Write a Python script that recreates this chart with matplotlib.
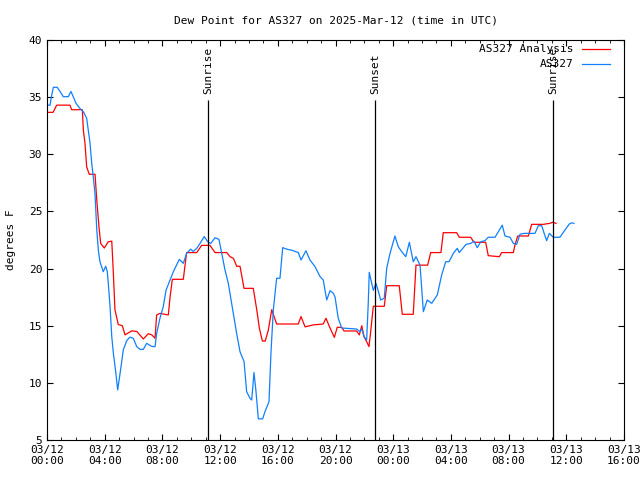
import numpy as np
import matplotlib
matplotlib.use('Agg')
import matplotlib.pyplot as plt

plt.rcParams['font.family'] = ['DejaVu Sans Mono']

# hours since 03/12 00:00 UTC
analysis_t = [0.00, 0.42, 0.67, 1.59, 1.71, 2.45, 2.52, 2.63, 2.75, 2.93, 3.33, 3.45, 3.60, 3.72,
              3.97, 4.25, 4.49, 4.60, 4.71, 4.94, 5.22, 5.41, 5.87, 6.22, 6.68, 7.02, 7.26, 7.49,
              7.60, 7.83, 8.41, 8.53, 8.69, 9.45, 9.57, 9.68, 10.38, 10.72, 11.30, 11.65, 12.46,
              12.69, 12.92, 13.15, 13.38, 13.66, 14.30, 14.54, 14.72, 14.93, 15.13, 15.34, 15.58,
              15.92, 17.42, 17.61, 17.89, 18.46, 19.15, 19.34, 19.62, 19.92, 20.12, 20.43, 20.59,
              21.47, 21.65, 21.82, 21.98, 22.16, 22.32, 22.44, 22.62, 23.38, 23.55, 24.42, 24.63,
              25.39, 25.58, 26.39, 26.60, 27.31, 27.47, 28.40, 28.58, 29.37, 29.60, 30.41, 30.59,
              31.36, 31.52, 32.33, 32.44, 32.63, 33.37, 33.60, 34.41, 34.87, 35.06, 35.29]
analysis_v = [33.67, 33.67, 34.3, 34.3, 33.9, 33.9, 32.1, 31.0, 28.9, 28.25, 28.25, 26.0, 23.7, 22.2,
              21.8, 22.35, 22.4, 19.6, 16.4, 15.1, 15.0, 14.2, 14.55, 14.5, 13.84, 14.3, 14.2, 13.9,
              15.94, 16.08, 15.94, 17.5, 19.06, 19.06, 20.3, 21.4, 21.4, 22.03, 22.03, 21.4, 21.4,
              21.04, 20.9, 20.2, 20.2, 18.27, 18.27, 16.4, 14.8, 13.66, 13.66, 14.6, 16.4,
              15.15, 15.15, 15.8, 14.9, 15.07, 15.15, 15.65, 14.8, 13.98, 14.86, 14.86, 14.54,
              14.54, 14.19, 15.0, 14.04, 13.6, 13.17, 14.48, 16.7, 16.7, 18.5, 18.5, 16.0,
              16.0, 20.3, 20.3, 21.4, 21.4, 23.14, 23.14, 22.74, 22.74, 22.3, 22.3, 21.13,
              21.04, 21.4, 21.4, 22.06, 22.85, 22.85, 23.87, 23.87, 23.96, 24.05, 23.96]

obs_t = [0.00, 0.21, 0.33, 0.44, 0.71, 0.90, 1.13, 1.48, 1.66, 1.82, 2.01, 2.29, 2.52, 2.75, 2.86,
         2.98, 3.10, 3.21, 3.33, 3.45, 3.56, 3.67, 3.90, 4.07, 4.18, 4.25, 4.37, 4.49, 4.60, 4.76,
         4.90, 5.13, 5.29, 5.53, 5.75, 5.98, 6.22, 6.45, 6.68, 6.91, 7.21, 7.37, 7.49, 7.60, 7.83,
         8.06, 8.25, 8.53, 8.76, 9.17, 9.45, 9.68, 9.96, 10.14, 10.38, 10.61, 10.90, 11.14, 11.35,
         11.65, 11.92, 12.11, 12.34, 12.57, 12.80, 13.03, 13.15, 13.38, 13.66, 13.84, 14.07, 14.19,
         14.35, 14.49, 14.65, 14.95, 15.11, 15.39, 15.53, 15.69, 15.92, 16.15, 16.34, 16.62, 16.98,
         17.42, 17.61, 17.95, 18.23, 18.58, 18.93, 19.15, 19.39, 19.62, 19.85, 19.97, 20.19, 20.43,
         21.47, 21.70, 21.82, 21.98, 22.16, 22.27, 22.34, 22.51, 22.62, 22.81, 23.04, 23.13, 23.38,
         23.55, 23.78, 24.12, 24.35, 24.59, 24.87, 25.12, 25.39, 25.58, 25.86, 26.09, 26.36, 26.67,
         27.06, 27.36, 27.64, 27.87, 28.17, 28.44, 28.58, 29.05, 29.37, 29.60, 29.83, 30.07, 30.36,
         30.59, 31.06, 31.36, 31.56, 31.75, 32.10, 32.33, 32.56, 32.79, 33.07, 33.83, 34.06, 34.30,
         34.45, 34.64, 34.82, 35.10, 35.56, 35.91, 36.21, 36.37, 36.53]
obs_v = [34.3, 34.3, 35.2, 35.86, 35.86, 35.5, 35.04, 35.04, 35.5, 35.04, 34.46, 34.0, 33.73, 33.15, 32.1,
         31.0, 29.2, 28.0, 26.5, 23.4, 21.6, 20.6, 19.73, 20.2, 19.73, 18.7, 16.67, 14.04, 12.6, 11.0,
         9.38, 11.4, 12.9, 13.7, 14.0, 13.9, 13.17, 12.93, 12.93, 13.46, 13.22, 13.17, 13.17, 14.3, 15.65,
         16.67, 18.1, 19.0, 19.73, 20.8, 20.46, 21.33, 21.7, 21.5, 21.77, 22.2, 22.8, 22.35, 22.2,
         22.7, 22.56, 21.33, 19.88, 18.7, 16.96, 15.2, 14.3, 12.73, 11.86, 9.23, 8.65, 8.5,
         10.9, 9.23, 6.85, 6.85, 7.48, 8.35, 12.73, 16.4, 19.15, 19.15, 21.83, 21.7, 21.6,
         21.4, 20.75, 21.56, 20.75, 20.17, 19.3, 19.0, 17.25, 18.06, 17.84, 17.5, 15.65, 14.8,
         14.71, 14.48, 14.71, 14.04, 13.75, 16.96, 19.67, 18.7, 18.1, 18.7, 17.7, 17.25, 17.4,
         20.03, 21.33, 22.85, 21.92, 21.48, 21.04, 22.3, 20.6, 21.04, 20.3, 16.23, 17.25, 16.96,
         17.7, 19.44, 20.6, 20.6, 21.33, 21.77, 21.4, 22.12, 22.2, 22.4, 21.83, 22.35, 22.44,
         22.74, 22.74, 23.38, 23.8, 22.85, 22.74, 22.2, 22.12, 23.0, 23.08, 23.08, 23.75, 23.75,
         23.14, 22.44, 23.08, 22.74, 22.74, 23.38, 23.9, 24.0, 23.96]

sun_t = [11.16, 22.77, 35.11]
sun_labels = ['Sunrise', 'Sunset', 'Sunrise']

tick_hours = np.arange(0, 41, 4)
tick_labels = ['03/12\n00:00', '03/12\n04:00', '03/12\n08:00', '03/12\n12:00', '03/12\n16:00',
               '03/12\n20:00', '03/13\n00:00', '03/13\n04:00', '03/13\n08:00', '03/13\n12:00',
               '03/13\n16:00']

fig = plt.figure(figsize=(6.4, 4.8), dpi=100)
ax = fig.add_axes([47 / 640, 40 / 480, 577 / 640, 400 / 480])

ax.plot(analysis_t, analysis_v, color='#ff0000', lw=0.9, label='AS327 Analysis')
ax.plot(obs_t, obs_v, color='#1080ff', lw=0.9, label='AS327')

for t, lab in zip(sun_t, sun_labels):
    ax.vlines(t, 5, 34.75, color='black', lw=0.9)
    ax.text(t, 35.3, lab, rotation=90, ha='center', va='bottom', fontsize=8)

ax.set_xlim(0, 40)
ax.set_ylim(5, 40)
ax.set_xticks(tick_hours)
ax.set_xticklabels(tick_labels, fontsize=8)
ax.set_xticks(np.arange(0, 41, 1), minor=True)
ax.set_yticks(np.arange(5, 41, 5))
ax.tick_params(axis='y', labelsize=8)
ax.tick_params(direction='in', top=True, right=True, which='both', length=4)
ax.tick_params(which='minor', length=2.5)

ax.set_title('Dew Point for AS327 on 2025-Mar-12 (time in UTC)', fontsize=8, pad=12)
ax.set_ylabel('degrees F', fontsize=8, labelpad=9)

ax.legend(loc='upper right', bbox_to_anchor=(0.983, 1.0), frameon=False, markerfirst=False,
          fontsize=8, handlelength=2.5, labelspacing=0.45, borderaxespad=0, handletextpad=0.8)

fig.savefig('out.png', dpi=100)
